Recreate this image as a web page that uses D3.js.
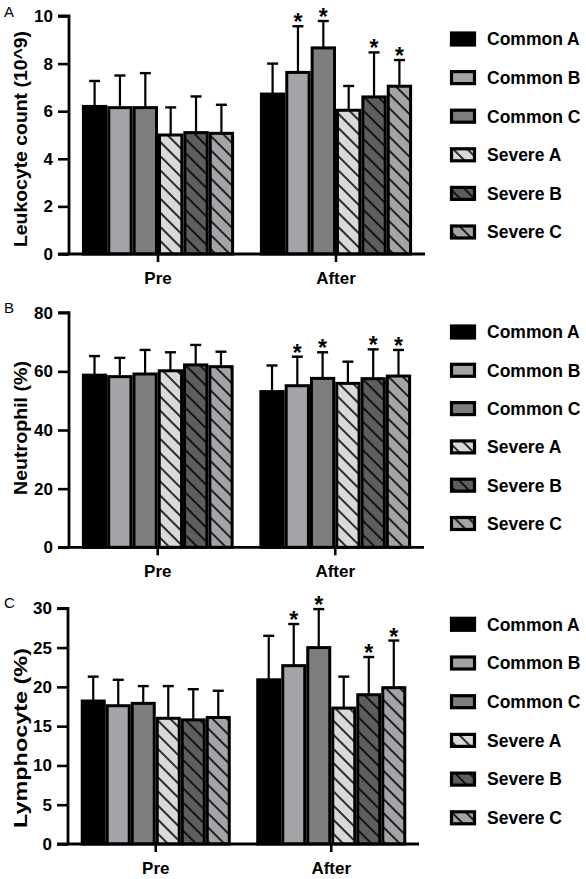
<!DOCTYPE html>
<html><head><meta charset="utf-8">
<script src="https://cdn.jsdelivr.net/npm/d3@7"></script>
<style>
html,body{margin:0;padding:0;background:#fff;}
svg{display:block;font-family:Arial,"Liberation Sans",sans-serif;}
</style></head>
<body>
<svg id="chart" width="586" height="879"></svg>
<script>
const categories = ["Pre", "After"];
const series = ["Common A", "Common B", "Common C", "Severe A", "Severe B", "Severe C"];
const seriesColors = ["#000000", "#a4a4a8", "#7e7e80", "#d9d9d9", "#5e5e60", "#a4a4a8"];
const seriesHatched = [false, false, false, true, true, true];

const leukocyteMean = { Pre: [6.2, 6.15, 6.15, 5.0, 5.1, 5.07], After: [6.72, 7.63, 8.66, 6.04, 6.6, 7.05] };
const leukocyteSD   = { Pre: [1.07, 1.35, 1.45, 1.16, 1.52, 1.2], After: [1.28, 1.94, 1.13, 1.02, 1.87, 1.1] };
const neutrophilMean = { Pre: [58.7, 58.2, 59.1, 60.2, 62.2, 61.6], After: [53.1, 55.1, 57.6, 55.9, 57.5, 58.4] };
const neutrophilSD   = { Pre: [6.5, 6.4, 8.2, 6.3, 6.8, 5.1], After: [8.9, 9.9, 8.9, 7.4, 10.0, 8.9] };
const lymphocyteMean = { Pre: [18.2, 17.6, 17.9, 16.0, 15.8, 16.1], After: [20.9, 22.7, 25.0, 17.3, 19.0, 19.9] };
const lymphocyteSD   = { Pre: [3.1, 3.3, 2.2, 4.1, 3.9, 3.4], After: [5.6, 5.3, 4.9, 4.0, 4.8, 6.0] };
const significant = { Pre: [false, false, false, false, false, false], After: [false, true, true, false, true, true] };

const leukocyteTicks = [0, 2, 4, 6, 8, 10];
const neutrophilTicks = [0, 20, 40, 60, 80];
const lymphocyteTicks = [0, 5, 10, 15, 20, 25, 30];

const panels = [
  { letter: "A", title: "Leukocyte count (10^9)", mean: leukocyteMean, sd: leukocyteSD, ticks: leukocyteTicks,
    yTop: 16, yBottom: 254, xLeft: 69, xRight: 425, titleY: 139, titleLen: 216, letterY: 17, legendY: 39, legendStep: 38.6 },
  { letter: "B", title: "Neutrophil (%)", mean: neutrophilMean, sd: neutrophilSD, ticks: neutrophilTicks,
    yTop: 312.7, yBottom: 547.3, xLeft: 69, xRight: 424, titleY: 428, titleLen: 134, letterY: 313, legendY: 332, legendStep: 38.3 },
  { letter: "C", title: "Lymphocyte (%)", mean: lymphocyteMean, sd: lymphocyteSD, ticks: lymphocyteTicks,
    yTop: 608.3, yBottom: 844, xLeft: 68, xRight: 419, titleY: 738, titleLen: 180, letterY: 608, legendY: 624.3, legendStep: 38.7 }
];

const svg = d3.select("#chart");
const defs = svg.append("defs");
series.forEach((s, i) => {
  if (!seriesHatched[i]) return;
  const p = defs.append("pattern").attr("id", "hatch" + i)
    .attr("patternUnits", "userSpaceOnUse").attr("width", 10).attr("height", 10)
    .attr("patternTransform", "rotate(45)");
  p.append("rect").attr("width", 10).attr("height", 10).attr("fill", seriesColors[i]);
  p.append("line").attr("x1", 0).attr("x2", 10).attr("y1", 5).attr("y2", 5)
    .attr("stroke", "#000").attr("stroke-width", 1.6);
});
const fillFor = i => seriesHatched[i] ? `url(#hatch${i})` : seriesColors[i];

panels.forEach((P, pi) => {
  const g = svg.append("g");
  const y = d3.scaleLinear().domain([P.ticks[0], P.ticks[P.ticks.length - 1]]).range([P.yBottom, P.yTop]);
  const x0 = d3.scaleBand().domain(categories).range([P.xLeft, P.xRight]).padding(0);
  const groupW = x0.bandwidth() * 0.855;
  const x1 = d3.scaleBand().domain(series).range([0, groupW]).padding(0);

  // bars
  categories.forEach(cat => {
    const gx = x0(cat) + (x0.bandwidth() - groupW) / 2;
    const cg = g.append("g").attr("transform", `translate(${gx},0)`);
    series.forEach((s, i) => {
      const m = P.mean[cat][i], sd = P.sd[cat][i];
      const cx = x1(s) + x1.bandwidth() / 2;
      // error bar
      cg.append("line").attr("x1", cx).attr("x2", cx).attr("y1", y(m)).attr("y2", y(m + sd))
        .attr("stroke", "#000").attr("stroke-width", 2.2);
      cg.append("line").attr("x1", cx - 5.5).attr("x2", cx + 5.5).attr("y1", y(m + sd)).attr("y2", y(m + sd))
        .attr("stroke", "#000").attr("stroke-width", 2.4);
      cg.append("rect").attr("x", x1(s) + 1.5).attr("width", x1.bandwidth() - 3)
        .attr("y", y(m)).attr("height", y(0) - y(m))
        .attr("fill", fillFor(i)).attr("stroke", "#000").attr("stroke-width", 3);
      if (significant[cat][i]) {
        cg.append("text").attr("x", cx).attr("y", y(m + sd) + 4)
          .attr("text-anchor", "middle").attr("font-size", 23).attr("font-weight", "bold").text("*");
      }
    });
  });

  // y axis
  const yAxis = d3.axisLeft(y).tickValues(P.ticks).tickSize(11).tickPadding(5).tickFormat(d3.format("d"));
  const ya = g.append("g").attr("transform", `translate(${P.xLeft},0)`).call(yAxis);
  ya.select(".domain").attr("stroke-width", 2.8).attr("d", `M-11,${P.yTop}H0V${P.yBottom}`);
  ya.selectAll(".tick line").attr("stroke-width", 2.6);
  ya.selectAll(".tick text").attr("font-size", 17).attr("font-weight", "bold").attr("fill", "#000")
    .attr("font-family", "Arial, 'Liberation Sans', sans-serif");

  // x axis
  const xAxis = d3.axisBottom(x0).tickSize(8).tickPadding(6);
  const xa = g.append("g").attr("transform", `translate(0,${P.yBottom})`).call(xAxis);
  xa.select(".domain").attr("stroke-width", 2.8).attr("d", `M${P.xLeft - 11},0H${P.xRight}`);
  xa.selectAll(".tick line").attr("stroke-width", 2.6);
  xa.selectAll(".tick text").attr("font-size", 17).attr("font-weight", "bold").attr("fill", "#000")
    .attr("font-family", "Arial, 'Liberation Sans', sans-serif").attr("dy", "0.95em");

  // y title
  g.append("text").attr("transform", `translate(20,${P.titleY}) rotate(-90)`)
    .attr("text-anchor", "middle").attr("dy", "0.35em")
    .attr("font-size", 19).attr("font-weight", "bold")
    .attr("textLength", P.titleLen).attr("lengthAdjust", "spacingAndGlyphs")
    .text(P.title);

  // panel letter
  g.append("text").attr("x", 4).attr("y", P.letterY).attr("font-size", 15).text(P.letter);

  // legend
  const lg = g.append("g");
  series.forEach((s, i) => {
    const cy = P.legendY + i * P.legendStep;
    lg.append("rect").attr("x", 451.5).attr("y", cy - 6).attr("width", 23).attr("height", 12)
      .attr("fill", fillFor(i)).attr("stroke", "#000").attr("stroke-width", 3.2);
    lg.append("text").attr("x", 487).attr("y", cy).attr("dy", "0.36em")
      .attr("font-size", 17.5).attr("font-weight", "bold").text(s);
  });
});
</script>
</body></html>
